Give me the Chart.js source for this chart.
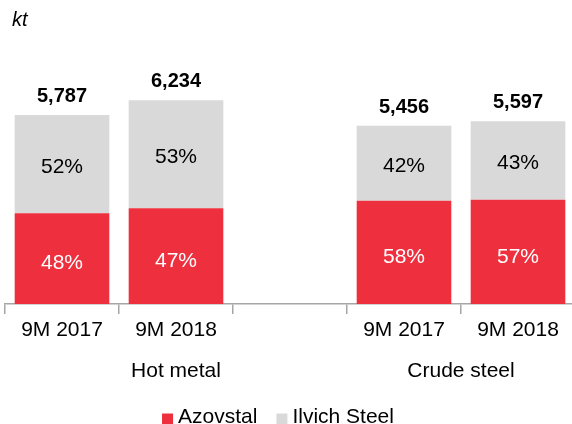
<!DOCTYPE html>
<html>
<head>
<meta charset="utf-8">
<script src="https://cdn.jsdelivr.net/npm/chart.js@4.4.1/dist/chart.umd.min.js"></script>
<style>
  html, body { margin: 0; padding: 0; background: #fff; overflow: hidden; }
  #wrap { width: 575px; height: 424px; position: relative; }
</style>
</head>
<body>
<div id="wrap"><canvas id="chart"></canvas></div>
<script>
  // ---------------------------
  // Data (kt)
  // ---------------------------
  const categories = ["9M 2017", "9M 2018", "", "9M 2017", "9M 2018"];
  const azovstal = [2778, 2930, null, 3164, 3190];
  const ilvich = [3009, 3304, null, 2292, 2407];
  const totals = [5787, 6234, null, 5456, 5597];
  const azovstalPct = ["48%", "47%", null, "58%", "57%"];
  const ilvichPct = ["52%", "53%", null, "42%", "43%"];
  const groupLabels = ["Hot metal", "Crude steel"];
  const unitLabel = "kt";

  const RED = "#ee2f3e";
  const GREY = "#d9d9d9";
  const FONT = "'Liberation Sans', Arial, sans-serif";

  // ---------------------------
  // Labels plugin
  // ---------------------------
  const labelsPlugin = {
    id: "labels",
    afterDatasetsDraw(chart) {
      const ctx = chart.ctx;
      const x = chart.scales.x;
      const area = chart.chartArea;
      const m0 = chart.getDatasetMeta(0);
      const m1 = chart.getDatasetMeta(1);
      ctx.save();
      ctx.textAlign = "center";
      ctx.textBaseline = "middle";

      // segment percentages
      ctx.font = "21px " + FONT;
      m0.data.forEach((bar, i) => {
        if (azovstalPct[i] == null) return;
        ctx.fillStyle = "#ffffff";
        ctx.fillText(azovstalPct[i], bar.x, (bar.y + bar.base) / 2 + 5);
      });
      m1.data.forEach((bar, i) => {
        if (ilvichPct[i] == null) return;
        ctx.fillStyle = "#000000";
        ctx.fillText(ilvichPct[i], bar.x, (bar.y + bar.base) / 2 + 3);
      });

      // totals
      ctx.font = "bold 20px " + FONT;
      ctx.textBaseline = "alphabetic";
      m1.data.forEach((bar, i) => {
        if (totals[i] == null) return;
        ctx.fillStyle = "#000000";
        ctx.fillText(totals[i].toLocaleString("en-US"), bar.x, bar.y - 13);
      });

      // group labels
      ctx.font = "21px " + FONT;
      ctx.textBaseline = "middle";
      ctx.fillStyle = "#000000";
      ctx.fillText(groupLabels[0], x.getPixelForValue(1), area.bottom + 67);
      ctx.fillText(groupLabels[1], (x.getPixelForValue(3) + x.getPixelForValue(4)) / 2, area.bottom + 67);

      // unit
      ctx.font = "italic 20px " + FONT;
      ctx.textAlign = "left";
      ctx.fillText(unitLabel, 12, 20);

      // legend
      const items = chart.data.datasets.map((d) => ({ label: d.label, color: d.backgroundColor }));
      const box = 11, gapBox = 5, gapItem = 19;
      ctx.font = "21px " + FONT;
      const widths = items.map((it) => box + gapBox + ctx.measureText(it.label).width);
      const total = widths.reduce((a, b) => a + b, 0) + gapItem * (items.length - 1);
      let lx = (area.left + area.right) / 2 - 12 - total / 2;
      const ly = area.bottom + 113;
      items.forEach((it, i) => {
        ctx.fillStyle = it.color;
        ctx.fillRect(lx, ly - box / 2 + 2, box, box);
        ctx.fillStyle = "#000000";
        ctx.fillText(it.label, lx + box + gapBox, ly);
        lx += widths[i] + gapItem;
      });
      ctx.restore();
    }
  };

  // ---------------------------
  // Chart
  // ---------------------------
  new Chart(document.getElementById("chart"), {
    type: "bar",
    data: {
      labels: categories,
      datasets: [
        {
          label: "Azovstal",
          data: azovstal,
          backgroundColor: RED,
          barPercentage: 0.83,
          categoryPercentage: 1
        },
        {
          label: "Ilvich Steel",
          data: ilvich,
          backgroundColor: GREY,
          barPercentage: 0.83,
          categoryPercentage: 1
        }
      ]
    },
    options: {
      responsive: true,
      maintainAspectRatio: false,
      animation: false,
      devicePixelRatio: 1,
      layout: { padding: { left: 5, right: 0, top: 10, bottom: 0 } },
      plugins: {
        legend: { display: false },
        tooltip: { enabled: false }
      },
      scales: {
        x: {
          stacked: true,
          afterFit(scale) { scale.height = 120; },
          border: { display: true, color: "#a6a6a6", width: 1.5 },
          grid: {
            display: true,
            drawOnChartArea: false,
            drawTicks: true,
            tickLength: 10,
            color: "#a6a6a6",
            lineWidth: 1.5,
            offset: true
          },
          ticks: {
            color: "#000000",
            font: { family: FONT, size: 21 },
            padding: 4,
            maxRotation: 0,
            autoSkip: false
          }
        },
        y: {
          stacked: true,
          display: false,
          min: 0,
          max: 9000
        }
      }
    },
    plugins: [labelsPlugin]
  });
</script>
</body>
</html>
